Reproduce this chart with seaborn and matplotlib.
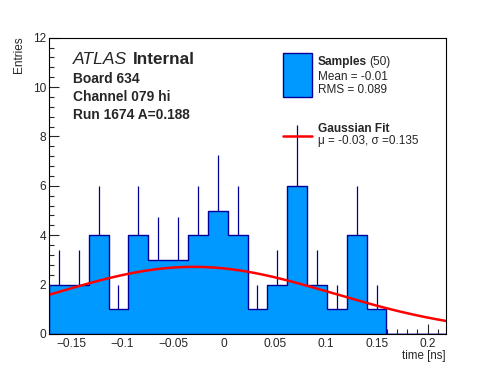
import numpy as np
import pandas as pd
import matplotlib
matplotlib.use("Agg")
import matplotlib.pyplot as plt
from matplotlib.patches import Rectangle
from matplotlib.ticker import MultipleLocator
import seaborn as sns

# histogram data
bin_lo = -0.172
bin_width = 0.0195
counts = [2, 2, 4, 1, 4, 3, 3, 4, 5, 4, 1, 2, 6, 2, 1, 4, 1, 0, 0, 0]

# gaussian fit parameters
fit_mu = -0.03
fit_sigma = 0.137
fit_amp = 2.72

x_ticks = [-0.15, -0.1, -0.05, 0, 0.05, 0.1, 0.15, 0.2]
x_tick_labels = ["\u22120.15", "\u22120.1", "\u22120.05", "0", "0.05", "0.1", "0.15", "0.2"]
y_ticks = [0, 2, 4, 6, 8, 10, 12]

fill_col = "#0099ff"
edge_col = "#000099"

sns.set_style("ticks")
plt.rcParams["font.family"] = ["Liberation Sans", "DejaVu Sans"]

W, H = 496, 372
fig = plt.figure(figsize=(W / 100, H / 100), dpi=100)
ax = fig.add_axes([49 / W, 1 - 334 / H, 397 / W, (334 - 37.7) / H])

edges = bin_lo + bin_width * np.arange(len(counts) + 1)
centers = (edges[:-1] + edges[1:]) / 2
df = pd.DataFrame({"time": centers, "n": counts})

sns.histplot(data=df, x="time", weights="n", bins=edges.tolist(), element="step",
             fill=True, color=fill_col, alpha=1, edgecolor=edge_col,
             linewidth=1, ax=ax)

# upper error bars
errs = np.sqrt(df["n"])
mask = df["n"] > 0
ax.vlines(df["time"][mask], df["n"][mask], (df["n"] + errs)[mask],
          color=edge_col, linewidth=0.9)

# gaussian fit curve
xs = np.linspace(edges[0], edges[-1], 200)
ys = fit_amp * np.exp(-(xs - fit_mu) ** 2 / (2 * fit_sigma ** 2))
sns.lineplot(x=xs, y=ys, color="red", linewidth=1.8, ax=ax)

ax.set_xlim(edges[0], edges[-1])
ax.set_ylim(0, 12)
ax.set_xticks(x_ticks)
ax.set_xticklabels(x_tick_labels)
ax.set_yticks(y_ticks)
ax.xaxis.set_minor_locator(MultipleLocator(0.01))
ax.yaxis.set_minor_locator(MultipleLocator(0.4))
ax.tick_params(which="both", direction="in", labelsize=8.6, top=False, right=False, width=0.8)
ax.tick_params(axis="x", which="major", length=7, pad=3)
ax.tick_params(axis="x", which="minor", length=3.5)
ax.tick_params(axis="y", which="major", length=7.5, pad=2)
ax.tick_params(axis="y", which="minor", length=3.8)
for s in ax.spines.values():
    s.set_visible(True)
    s.set_linewidth(0.8)
    s.set_color("black")
ax.set_xlabel("")
ax.set_ylabel("")


def px(x, y):
    return x / W, 1 - y / H


fig.text(*px(19, 36.5), "Entries", rotation=90, ha="center", va="top", fontsize=8.5)
fig.text(*px(446, 358.5), "time [ns]", ha="right", va="baseline", fontsize=8.3)

# ATLAS label block
fig.text(*px(73, 64), "ATLAS", style="italic", fontsize=12.6, va="baseline")
fig.text(*px(133, 64), "Internal", weight="bold", fontsize=12.3, va="baseline")
fig.text(*px(73, 82.7), "Board 634", weight="bold", fontsize=9.9, va="baseline")
fig.text(*px(73, 101), "Channel 079 hi", weight="bold", fontsize=9.9, va="baseline")
fig.text(*px(73, 119.3), "Run 1674 A=0.188", weight="bold", fontsize=9.9, va="baseline")

# legend
fig.patches.append(Rectangle(px(283.3, 96.7), 28.4 / W, 43.4 / H, transform=fig.transFigure,
                             facecolor=fill_col, edgecolor=edge_col, linewidth=1))
fig.text(*px(317.7, 64.5), "Samples", weight="bold", fontsize=8.6, va="baseline")
fig.text(*px(369.5, 64.5), "(50)", fontsize=8.6, va="baseline")
fig.text(*px(317.7, 79.5), "Mean = -0.01", fontsize=8.5, va="baseline")
fig.text(*px(317.7, 93), "RMS = 0.089", fontsize=8.5, va="baseline")
fig.lines.append(plt.Line2D([283.3 / W, 311.7 / W], [1 - 136 / H, 1 - 136 / H],
                            transform=fig.transFigure, color="red", linewidth=1.8))
fig.text(*px(317.7, 132.5), "Gaussian Fit", weight="bold", fontsize=8.6, va="baseline")
fig.text(*px(317.7, 144), "\u03bc = -0.03, \u03c3 =0.135", fontsize=8.5, va="baseline")

fig.savefig("out.png", dpi=100)
